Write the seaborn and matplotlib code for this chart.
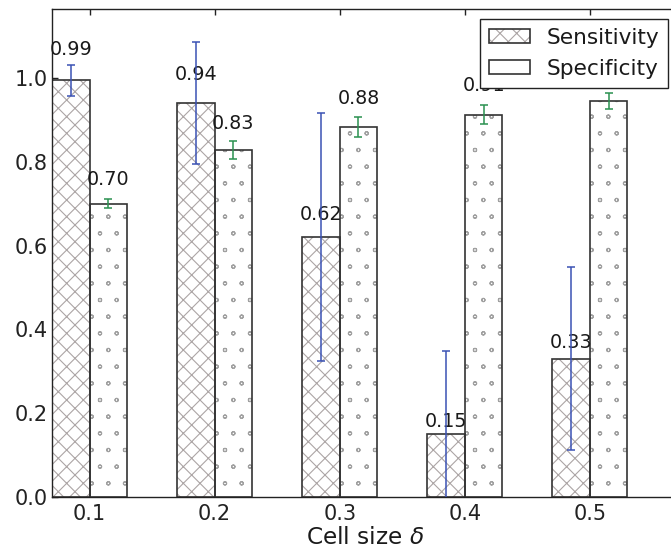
import numpy as np
import pandas as pd
import matplotlib
matplotlib.use("Agg")
import matplotlib.pyplot as plt
import matplotlib.hatch as mhatch
from matplotlib.patches import Rectangle, Patch
import seaborn as sns

# ---- data ----
cell_sizes = ["0.1", "0.2", "0.3", "0.4", "0.5"]
metrics = ["Sensitivity", "Specificity"]
sensitivity = [0.995, 0.94, 0.62, 0.15, 0.33]
sensitivity_err = [0.037, 0.146, 0.296, 0.199, 0.218]
specificity = [0.70, 0.828, 0.884, 0.913, 0.946]
specificity_err = [0.011, 0.022, 0.024, 0.023, 0.019]
yticks = [0.0, 0.2, 0.4, 0.6, 0.8, 1.0]

# ---- style ----
sns.set_theme(style="white")
plt.rcParams["font.family"] = ["DejaVu Sans"]
plt.rcParams["hatch.linewidth"] = 0.4
plt.rcParams["mathtext.fontset"] = "dejavusans"
mhatch.SmallCircles.size = 0.1  # smaller rings, like the reference

DPI = 200
fig = plt.figure(figsize=(671 / DPI, 550 / DPI), dpi=DPI)
ax = fig.add_axes([52 / 671, 53 / 550, 626 / 671, 488 / 550])

df = pd.DataFrame({
    "cell": cell_sizes * 2,
    "metric": [metrics[0]] * len(cell_sizes) + [metrics[1]] * len(cell_sizes),
    "value": sensitivity + specificity,
})

sns.barplot(data=df, x="cell", y="value", hue="metric", order=cell_sizes,
            hue_order=metrics, palette=["white", "white"], saturation=1,
            width=0.6, gap=0, errorbar=None, legend=False, ax=ax)

hatches = ["xxxx", "oo"]
hatch_cols = ["#aca5a5", "#a0a0a0"]
edge_col = "#333333"
err_cols = ["#3b52b4", "#2a9150"]
errs = [sensitivity_err, specificity_err]

bar_containers = list(ax.containers)
for k, cont in enumerate(bar_containers):
    xs, hs = [], []
    for p in cont.patches:
        p.set_hatch(hatches[k])
        p.set_edgecolor(hatch_cols[k])
        p.set_linewidth(0)
        ax.add_patch(Rectangle(p.get_xy(), p.get_width(), p.get_height(),
                               fill=False, edgecolor=edge_col, linewidth=0.6,
                               zorder=p.get_zorder() + 0.1))
        xs.append(p.get_x() + p.get_width() / 2)
        hs.append(p.get_height())
    ax.errorbar(xs, hs, yerr=errs[k], fmt="none", ecolor=err_cols[k],
                elinewidth=0.55, capsize=1.5, capthick=0.55, zorder=4)
    for x, h in zip(xs, hs):
        ax.text(x, 1.05 * h, "%.2f" % h, ha="center", va="bottom",
                fontsize=6.9, color="#1a1a1a", zorder=3)

ax.set_xlim(-0.3, 4.704)
ax.set_ylim(0, 1.165)
ax.set_yticks(yticks)
ax.set_yticklabels(["%.1f" % v for v in yticks])
ax.set_xlabel(r"Cell size $\delta$", fontsize=8.4, color="#1a1a1a", labelpad=0.8)
ax.set_ylabel("")

for s in ax.spines.values():
    s.set_linewidth(0.5)
    s.set_color("#222222")
    s.set_visible(True)

ax.tick_params(axis="both", direction="in", length=2.0, width=0.5,
               colors="#222222", labelsize=7.5, top=True, right=True,
               bottom=True, left=True)
ax.tick_params(axis="x", pad=2.4)
ax.tick_params(axis="y", pad=1.6)

# legend: hatch layer + outline layer overlaid
h_sens = (Patch(facecolor="white", edgecolor=hatch_cols[0], hatch="xxxx", linewidth=0),
          Patch(facecolor="none", edgecolor=edge_col, linewidth=0.6))
h_spec = (Patch(facecolor="white", edgecolor="white", linewidth=0),
          Patch(facecolor="none", edgecolor=edge_col, linewidth=0.6))
leg = ax.legend([h_sens, h_spec], metrics, loc="upper right", fontsize=7.8,
                frameon=True, fancybox=False, framealpha=1, edgecolor="#222222",
                borderaxespad=0.45, handlelength=1.9, handleheight=0.6,
                handletextpad=0.75, labelspacing=0.5, borderpad=0.42)
leg.get_frame().set_linewidth(0.5)
for t in leg.get_texts():
    t.set_color("#1a1a1a")

fig.savefig("out.png", dpi=DPI)
